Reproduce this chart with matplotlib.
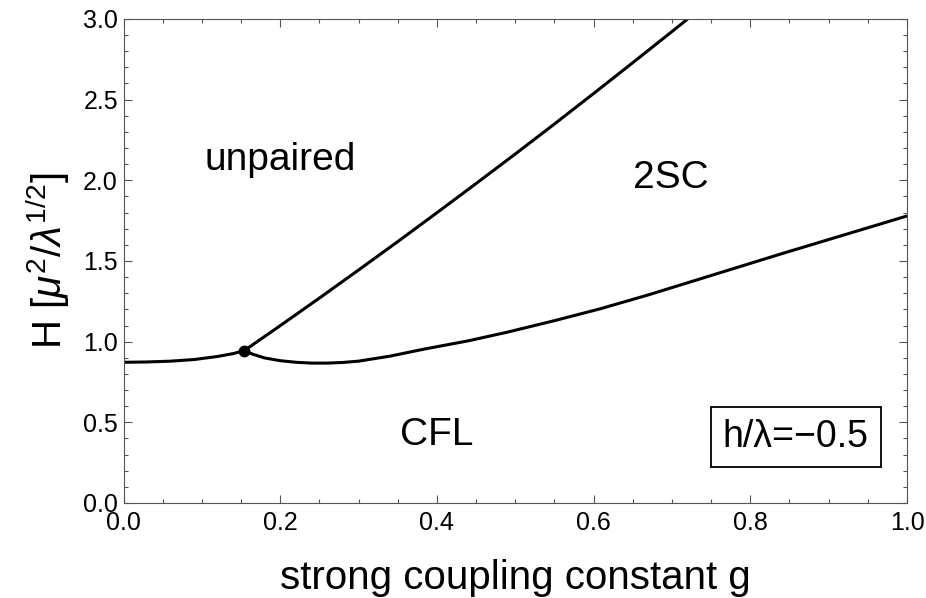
import matplotlib
matplotlib.use("Agg")
import matplotlib.pyplot as plt
from matplotlib.ticker import MultipleLocator

plt.rcParams['font.family'] = ['Liberation Sans', 'DejaVu Sans']
plt.rcParams['mathtext.fontset'] = 'custom'
plt.rcParams['mathtext.rm'] = 'Liberation Sans'
plt.rcParams['mathtext.it'] = 'Liberation Sans:italic'
plt.rcParams['mathtext.bf'] = 'Liberation Sans:bold'

# CFL / unpaired boundary (left of the triple point)
g_left = [0.0, 0.03, 0.06, 0.09, 0.12, 0.14, 0.154]
H_left = [0.872, 0.874, 0.879, 0.889, 0.908, 0.926, 0.944]

# unpaired / 2SC boundary
g_upper = [0.154, 0.20, 0.25, 0.30, 0.35, 0.40, 0.45, 0.50, 0.55, 0.60, 0.65, 0.70, 0.72]
H_upper = [0.944, 1.099, 1.270, 1.444, 1.620, 1.799, 1.980, 2.163, 2.349, 2.538, 2.729, 2.922, 3.0]

# CFL / 2SC boundary
g_lower = [0.154, 0.165, 0.18, 0.20, 0.22, 0.24, 0.26, 0.28, 0.30, 0.34, 0.385, 0.44, 0.491,
           0.55, 0.608, 0.67, 0.73, 0.79, 0.842, 0.92, 1.0]
H_lower = [0.944, 0.922, 0.899, 0.882, 0.872, 0.867, 0.867, 0.871, 0.879, 0.910, 0.955, 1.005, 1.060,
           1.130, 1.203, 1.290, 1.380, 1.470, 1.548, 1.662, 1.779]

triple_g = [0.154]
triple_H = [0.944]

region_labels = ["unpaired", "CFL", "2SC"]
region_g = [0.200, 0.400, 0.699]
region_H = [2.126, 0.422, 2.015]

box_text = "h/\u03bb=\u22120.5"

fig = plt.figure(figsize=(9.26, 5.98), dpi=100)
ax = fig.add_axes([0.1334, 0.1589, 0.8461, 0.8094])

lw = 2.2
ax.plot(g_left, H_left, color='black', lw=lw, solid_capstyle='butt')
ax.plot(g_upper, H_upper, color='black', lw=lw, solid_capstyle='butt')
ax.plot(g_lower, H_lower, color='black', lw=lw, solid_capstyle='butt')
ax.plot(triple_g, triple_H, 'o', color='black', ms=7.5)

ax.set_xlim(0, 1.0)
ax.set_ylim(0, 3.0)
ax.xaxis.set_major_locator(MultipleLocator(0.2))
ax.xaxis.set_minor_locator(MultipleLocator(0.05))
ax.yaxis.set_major_locator(MultipleLocator(0.5))
ax.yaxis.set_minor_locator(MultipleLocator(0.1))
ax.xaxis.set_major_formatter(plt.FuncFormatter(lambda v, p: f"{v:.1f}"))
ax.yaxis.set_major_formatter(plt.FuncFormatter(lambda v, p: f"{v:.1f}"))

spine_color = '#555555'
for s in ax.spines.values():
    s.set_color(spine_color)
    s.set_linewidth(0.8)
ax.tick_params(which='both', direction='in', top=True, right=True, color=spine_color, width=0.8)
ax.tick_params(which='major', length=5.5, labelsize=18, pad=4)
ax.tick_params(which='minor', length=3.0)
ax.tick_params(axis='x', which='major', pad=6)

ax.set_xlabel("strong coupling constant g", fontsize=29, va='center')
ax.xaxis.set_label_coords(0.5, -0.155)
ax.set_ylabel(r"H [$\mu^2/\lambda^{1/2}$]", fontsize=29, va='center')
ax.yaxis.set_label_coords(-0.0964, 0.5)

for lab, gx, hy in zip(region_labels, region_g, region_H):
    ax.text(gx, hy, lab, fontsize=28, ha='center', va='center')

ax.text(0.858, 0.409, box_text, fontsize=27, ha='center', va='center',
        bbox=dict(boxstyle='square,pad=0.32', facecolor='white', edgecolor='black', linewidth=1.3))

fig.savefig("out.png", dpi=100)
